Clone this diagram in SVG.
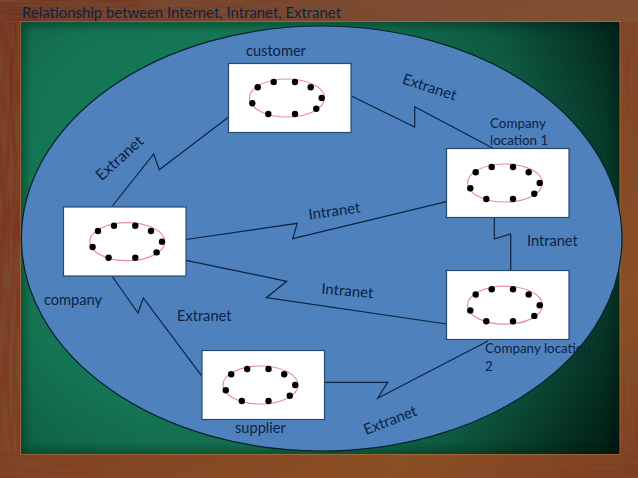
<svg xmlns="http://www.w3.org/2000/svg" xmlns:xlink="http://www.w3.org/1999/xlink" width="638" height="478" viewBox="0 0 638 478">
<style>
text{font-family:"Lato","Open Sans","Liberation Sans",sans-serif;font-size:14.6px;fill:#0c2344}
.small{font-size:13.4px}
.rot{font-size:15px}
.box{fill:#fff;stroke:#274a74;stroke-width:1.2}
.ring{fill:none;stroke:#e68cab;stroke-width:1.2}
.dot{fill:#000}
.wire{fill:none;stroke:#0b2340;stroke-width:1.2}
</style>
<defs>
<linearGradient id="wood" x1="0" y1="0" x2="1" y2="1">
<stop offset="0" stop-color="#752f1c"/><stop offset="0.45" stop-color="#803c22"/><stop offset="0.8" stop-color="#8f4f20"/><stop offset="1" stop-color="#7f3a20"/>
</linearGradient>
<linearGradient id="woodtop" x1="0" y1="0" x2="1" y2="0">
<stop offset="0" stop-color="#703322"/><stop offset="0.5" stop-color="#7b4630"/><stop offset="1" stop-color="#854f35"/>
</linearGradient>
<radialGradient id="board" gradientUnits="userSpaceOnUse" cx="210" cy="210" r="470">
<stop offset="0" stop-color="#178159"/><stop offset="0.45" stop-color="#147453"/><stop offset="0.7" stop-color="#0e5a42"/><stop offset="1" stop-color="#011a14"/>
</radialGradient>
<filter id="grainH" x="0" y="0" width="100%" height="100%">
<feTurbulence type="fractalNoise" baseFrequency="0.02 0.3" numOctaves="3" seed="4"/>
<feColorMatrix values="0 0 0 0 0.2  0 0 0 0 0.08  0 0 0 0 0.03  1.5 0 0 0 -0.4"/>
</filter>
<filter id="grainV" x="0" y="0" width="100%" height="100%">
<feTurbulence type="fractalNoise" baseFrequency="0.3 0.02" numOctaves="3" seed="9"/>
<feColorMatrix values="0 0 0 0 0.2  0 0 0 0 0.08  0 0 0 0 0.03  1.5 0 0 0 -0.4"/>
</filter>
<filter id="soft" x="-10%" y="-10%" width="120%" height="120%"><feGaussianBlur stdDeviation="4"/></filter>
<clipPath id="boardclip"><rect x="21" y="22" width="598.5" height="432"/></clipPath>
<g id="net">
<rect class="box" x="0" y="0" width="122.5" height="69"/>
</g>
<g id="ringset">
<ellipse class="ring" cx="58.5" cy="34.5" rx="37.5" ry="19"/>
<circle class="dot" cx="29.2" cy="23.8" r="3.2"/><circle class="dot" cx="45.2" cy="18.5" r="3.2"/><circle class="dot" cx="66.5" cy="18.5" r="3.2"/><circle class="dot" cx="82.2" cy="23.8" r="3.2"/><circle class="dot" cx="93.2" cy="34.5" r="3.2"/><circle class="dot" cx="87.8" cy="45.2" r="3.2"/><circle class="dot" cx="66.5" cy="50.5" r="3.2"/><circle class="dot" cx="39.8" cy="50.5" r="3.2"/><circle class="dot" cx="23.8" cy="39.8" r="3.2"/>
</g>
</defs>
<g id="background">
<rect width="638" height="478" fill="url(#wood)"/>
<rect width="638" height="22" fill="url(#woodtop)"/>
<rect width="638" height="22" filter="url(#grainH)"/>
<rect y="454" width="638" height="24" filter="url(#grainH)" opacity="0.7"/>
<rect y="22" width="21" height="432" filter="url(#grainV)"/>
<rect x="619" y="22" width="19" height="432" filter="url(#grainV)"/>
<rect x="21" y="22" width="598.5" height="432" fill="url(#board)"/>
<g clip-path="url(#boardclip)"><rect x="21" y="22" width="598.5" height="432" fill="none" stroke="#02150f" stroke-width="6" opacity="0.55" filter="url(#soft)"/></g>
<rect x="20.5" y="21.5" width="599.5" height="433" fill="none" stroke="#b98a55" stroke-width="0.8" opacity="0.55"/>
</g>
<ellipse id="cloud" cx="321.7" cy="238.5" rx="300.3" ry="212.5" fill="#4f81bd" stroke="#06202c" stroke-width="1.2"/>
<g id="connectors">
<polyline class="wire" points="112.4,206 153.7,154 159.3,169.7 228.7,117"/>
<polyline class="wire" points="351.3,96 414.7,127 414.7,106.7 493,148.3"/>
<polyline class="wire" points="186,239.5 297.3,223.3 292.7,238.7 446.5,201.7"/>
<polyline class="wire" points="494.3,217.5 494.3,239 510.7,234 510.7,270.5"/>
<polyline class="wire" points="186,260.3 286.7,281.3 266.3,297.7 446.5,324"/>
<polyline class="wire" points="112.3,276.5 138,313 143.3,298 201.3,375.3"/>
<polyline class="wire" points="324,382.3 387.7,382.3 377.7,398.3 488,341"/>
</g>
<g id="title"><text x="22" y="18" textLength="319" lengthAdjust="spacingAndGlyphs">Relationship between Internet, Intranet, Extranet</text></g>
<g id="customer"><use href="#net" x="228.5" y="63.5"/><use href="#ringset" x="228.5" y="63.5"/><text x="246" y="56">customer</text></g>
<g id="company"><use href="#net" x="63.5" y="207"/><use href="#ringset" x="68.8" y="207.2"/><text x="44" y="305">company</text></g>
<g id="location1"><use href="#net" x="446.5" y="148.5"/><use href="#ringset" x="446.5" y="148.5"/><text class="small" x="490" y="128">Company</text><text class="small" x="490" y="145">location 1</text></g>
<g id="location2"><use href="#net" x="446.5" y="270.5"/><use href="#ringset" x="446.5" y="270.7"/><text class="small" x="485" y="353">Company location</text><text class="small" x="485" y="371">2</text></g>
<g id="supplier"><use href="#net" x="202" y="350.5"/><use href="#ringset" x="202" y="350.5"/><text x="235" y="433">supplier</text></g>
<g id="labels">
<text text-anchor="middle" style="font-size:15.6px" transform="translate(123,162) rotate(-42)">Extranet</text>
<text class="rot" text-anchor="middle" transform="translate(428,92) rotate(18)">Extranet</text>
<text class="rot" text-anchor="middle" transform="translate(335,216) rotate(-8)">Intranet</text>
<text x="527" y="246">Intranet</text>
<text class="rot" text-anchor="middle" transform="translate(347,296) rotate(5)">Intranet</text>
<text x="177" y="321">Extranet</text>
<text class="rot" text-anchor="middle" transform="translate(392,425) rotate(-21)">Extranet</text>
</g>
</svg>
